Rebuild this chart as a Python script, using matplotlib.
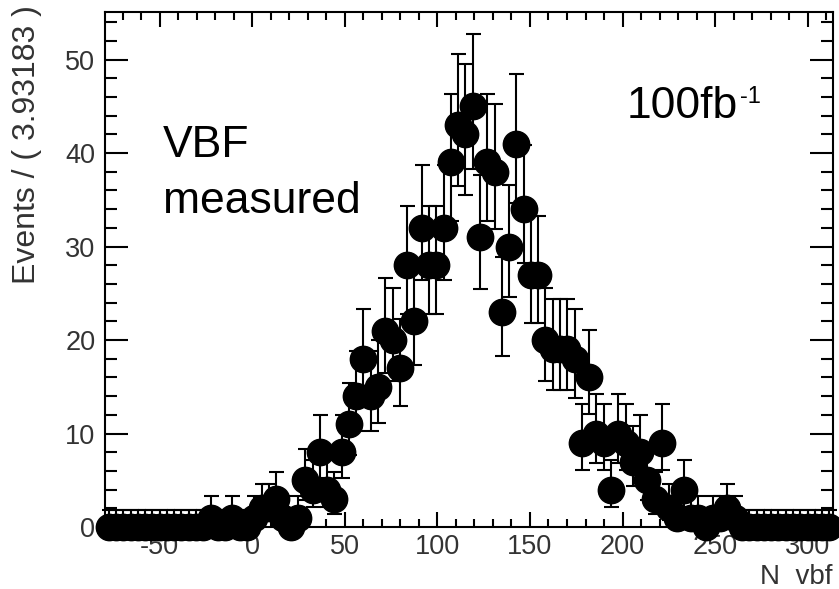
import math
import numpy as np
import matplotlib
matplotlib.use('Agg')
import matplotlib.pyplot as plt
from matplotlib.ticker import MultipleLocator

plt.rcParams['font.family'] = ['Liberation Sans', 'DejaVu Sans']
plt.rcParams['axes.unicode_minus'] = False

# histogram binning (100 bins of 3.93183)
x_low = -79.5
bin_width = 3.93183

# events per bin
counts = [0, 0, 0, 0, 0, 0, 0, 0, 0, 0,
          0, 0, 0, 0, 1, 0, 0, 1, 0, 0,
          1, 2, 2, 3, 1, 0, 1, 5, 4, 8,
          4, 3, 8, 11, 14, 18, 14, 15, 21, 20,
          17, 28, 22, 32, 28, 28, 32, 39, 43, 42,
          45, 31, 39, 38, 23, 30, 41, 34, 27, 27,
          20, 19, 19, 19, 18, 9, 16, 10, 9, 4,
          10, 9, 7, 8, 5, 3, 9, 2, 1, 4,
          1, 1, 0, 1, 1, 2, 1, 0, 0, 0,
          0, 0, 0, 0, 0, 0, 0, 0, 0, 0]

x_ticks = [-50, 0, 50, 100, 150, 200, 250, 300]
y_ticks = [0, 10, 20, 30, 40, 50]


def poisson_cdf(n, mu):
    term = math.exp(-mu)
    s = term
    for k in range(1, n + 1):
        term *= mu / k
        s += term
    return s


def solve(n, target, lo, hi):
    # cdf decreases with mu
    for _ in range(80):
        mid = 0.5 * (lo + hi)
        if poisson_cdf(n, mid) > target:
            lo = mid
        else:
            hi = mid
    return 0.5 * (lo + hi)


def poisson_err(n, alpha=0.158655):
    up = solve(n, alpha, n, n + 60)
    lo = 0.0 if n == 0 else solve(n - 1, 1 - alpha, 0, n)
    return n - lo, up - n


counts = np.array(counts)
centers = x_low + bin_width * (np.arange(len(counts)) + 0.5)
errs = np.array([poisson_err(int(n)) for n in counts])

fig = plt.figure(figsize=(8.39, 5.89), dpi=100)
ax = fig.add_axes([0.1252, 0.1053, 0.8677, 0.8744])

cont = ax.errorbar(centers, counts, yerr=[errs[:, 0], errs[:, 1]], fmt='o',
                   color='black', ms=19, elinewidth=1.5, capsize=5.4,
                   capthick=1.5)
for art in cont.get_children():
    art.set_clip_on(False)

ax.set_xlim(x_low, x_low + bin_width * len(counts))
ax.set_ylim(0, 55.1)
ax.set_xticks(x_ticks)
ax.set_yticks(y_ticks)
ax.xaxis.set_minor_locator(MultipleLocator(10))
ax.yaxis.set_minor_locator(MultipleLocator(2))

for s in ax.spines.values():
    s.set_linewidth(1.5)
ax.tick_params(which='both', direction='in', top=True, right=True,
               width=1.5, labelsize=19.5, labelcolor='#333333')
ax.tick_params(axis='y', which='major', length=16.5, pad=7)
ax.tick_params(axis='y', which='minor', length=8.6)
ax.tick_params(axis='x', which='major', length=10.8, pad=5)
ax.tick_params(axis='x', which='minor', length=6)

fig.text(27 / 839, 1 - 5 / 589, 'Events / ( 3.93183 )', rotation=90,
         ha='center', va='top', fontsize=23, color='#333333')
fig.text(832 / 839, 5 / 589, 'N  vbf', ha='right', va='baseline',
         fontsize=20, color='#333333')

ax.text(0.0797, 0.718, 'VBF', transform=ax.transAxes, fontsize=32,
        ha='left', va='baseline')
ax.text(0.0797, 0.610, 'measured', transform=ax.transAxes, fontsize=32,
        ha='left', va='baseline')
lumi = ax.text(0.717, 0.794, '100fb', transform=ax.transAxes, fontsize=32,
               ha='left', va='baseline')
ax.annotate('-1', xy=(1, 1), xycoords=lumi, xytext=(1, 0),
            textcoords='offset points', fontsize=17, ha='left', va='top')

fig.savefig('out.png', dpi=100)
